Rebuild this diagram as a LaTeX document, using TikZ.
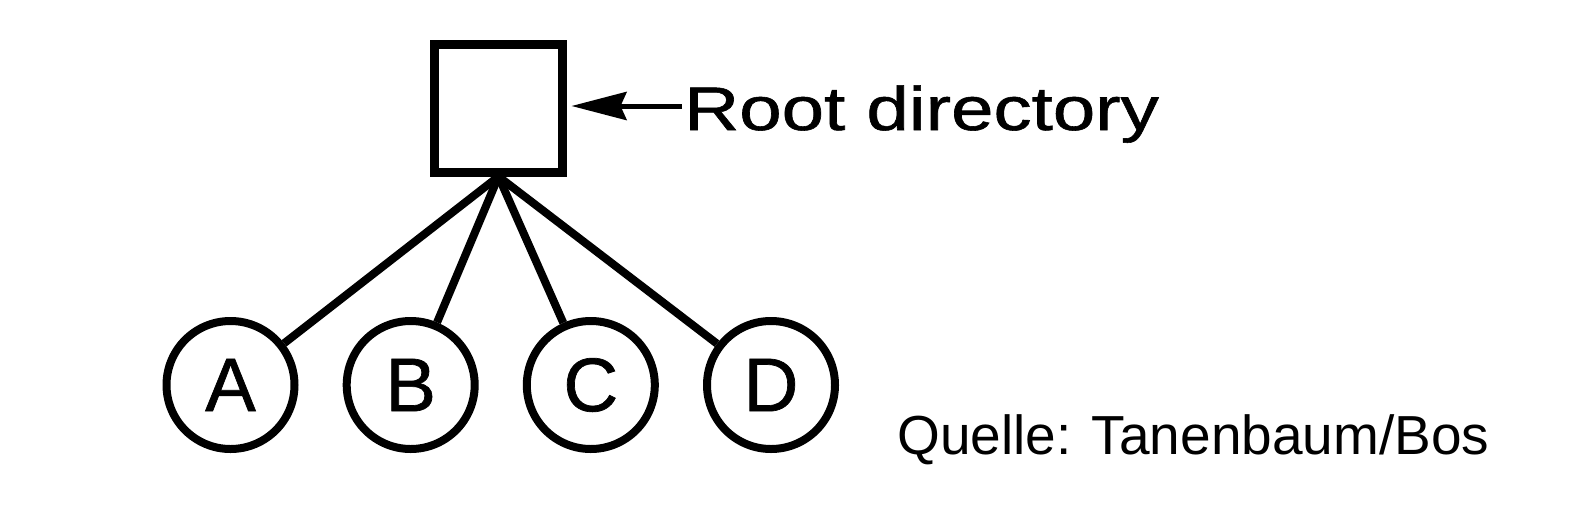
\documentclass[tikz,border=0pt]{standalone}
\usepackage{fontspec}
\setmainfont{Liberation Sans}
\newfontfamily\heavysans[FakeBold=0.9]{Liberation Sans}
\usetikzlibrary{arrows.meta}
\begin{document}
\begin{tikzpicture}[x=1pt,y=-1pt,
  dirbox/.style={draw, line width=9pt, minimum size=128pt, inner sep=0pt},
  filenode/.style={draw, circle, line width=8pt, minimum size=128pt, inner sep=0pt, font=\heavysans\fontsize{76}{76}\selectfont},
  link/.style={line width=8pt},
  pointer/.style={line width=5pt, -{Stealth[length=55pt, width=28pt, inset=6pt]}},
  lbl/.style={inner sep=0pt, anchor=base west}
]
\useasboundingbox (0,0) rectangle (1595,512);
\node[dirbox] (root) at (498.5,108) {};
\node[filenode] (A) at (230.5,385) {A};
\node[filenode] (B) at (410.7,385) {B};
\node[filenode] (C) at (590.8,385) {C};
\node[filenode] (D) at (771,385) {D};
\foreach \n in {A,B,C,D} \draw[link] (root.south) -- (\n);
\node[lbl, font=\heavysans\fontsize{61.5}{61.5}\selectfont] (rlabel) at (684,130) {\scalebox{1.24}[1]{Root directory}};
\coordinate (rt) at (682,106);
\draw[pointer] (rt) -- ([xshift=4.5pt]root.east |- rt);
\node[lbl, font=\fontsize{55}{55}\selectfont] (src) at (897,454) {Quelle: Tanenbaum/Bos};
\end{tikzpicture}
\end{document}
